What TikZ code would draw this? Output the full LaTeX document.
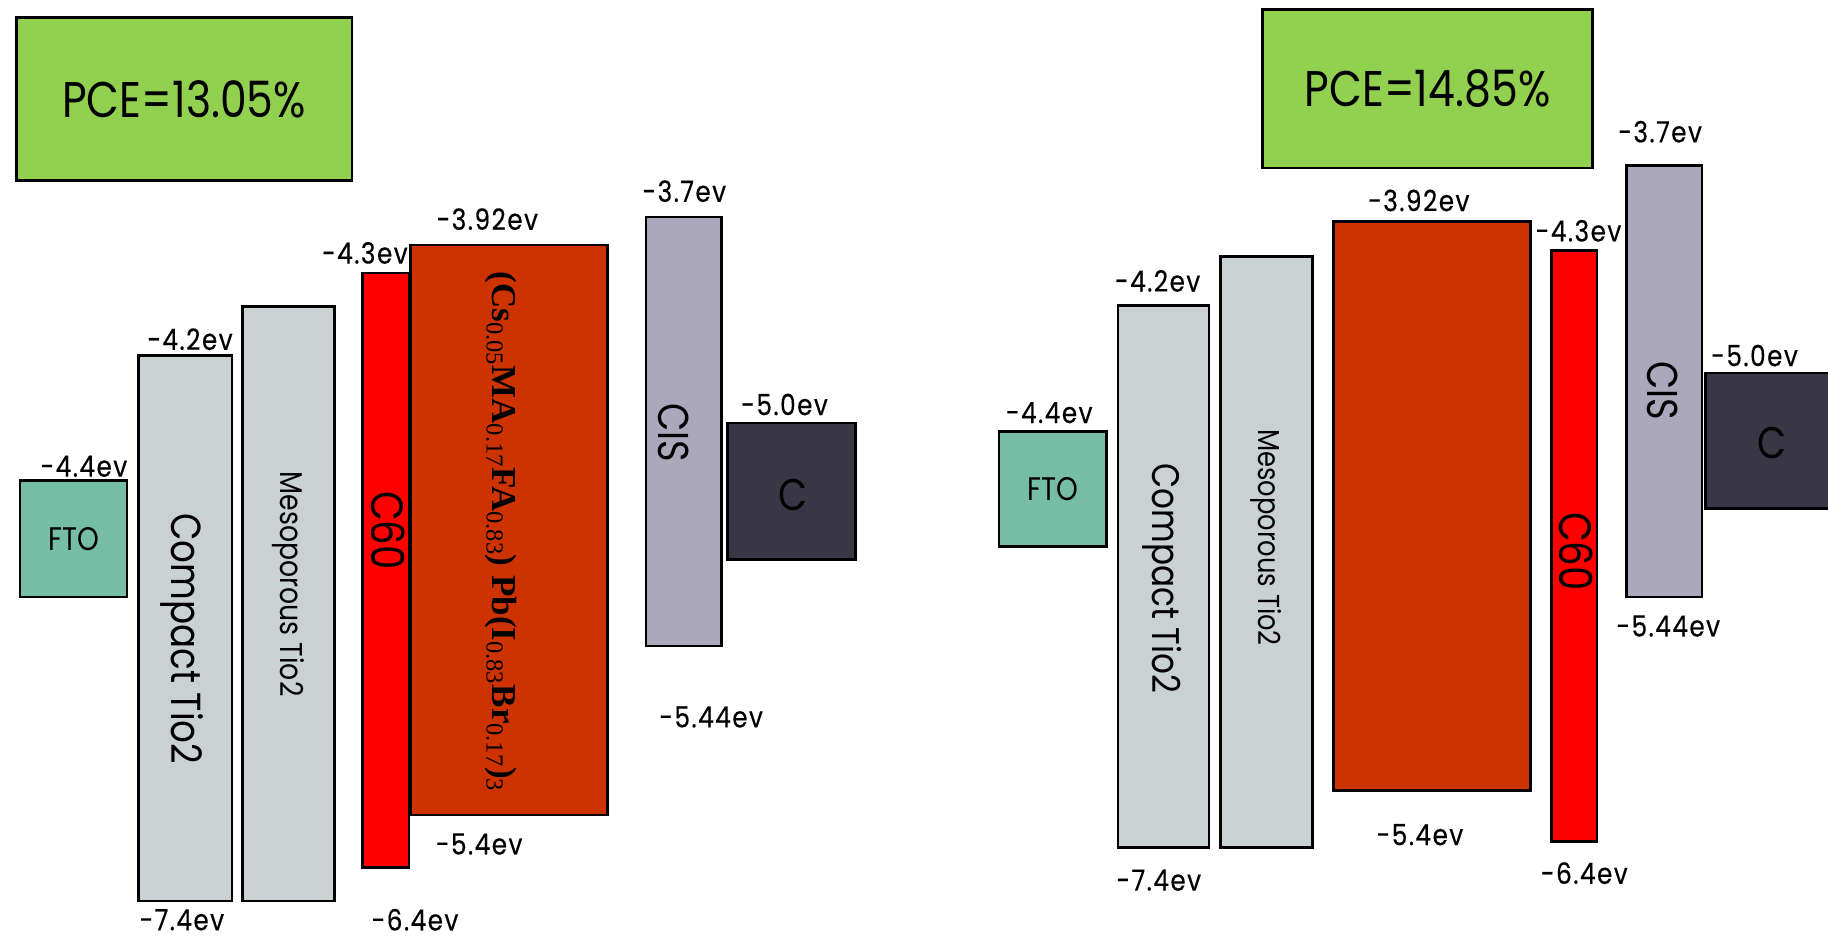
\documentclass[tikz,border=0pt]{standalone}
\usepackage{fontspec}
\setmainfont[FakeStretch=0.85]{Poppins}
\newfontfamily\levelfont[FakeStretch=0.85, LetterSpace=5, FakeBold=0.4]{Poppins}
\newfontfamily\formulafont{Liberation Serif}
\usepackage{tikz}
\usetikzlibrary{fit}
\definecolor{pvGreen}{HTML}{92D050}
\definecolor{pvTeal}{HTML}{76BDA6}
\definecolor{pvGrey}{HTML}{C9D1D3}
\definecolor{pvRed}{HTML}{FF0000}
\definecolor{pvRust}{HTML}{CC3300}
\definecolor{pvLilac}{HTML}{ABA8BC}
\definecolor{pvCarbon}{HTML}{393746}
\tikzset{
  pv diagram/.style={x=1pt, y=-1pt, line join=miter},
  pv band/.style={draw=black, line width=2.2pt, inner sep=0pt, outer sep=0pt},
  pv level/.style={font=\levelfont\fontsize{25}{27}\selectfont, inner sep=0pt},
  pv pce/.style={font=\fontsize{43}{45}\selectfont, inner sep=0pt},
  pv tag/.style={rotate=-90, inner sep=0pt}
}
\begin{document}
\begin{tikzpicture}[pv diagram]
\clip (0,0) rectangle (1568,805);
% left cell
\node[pv band, fill=pvGreen, fit={(14,15) (302,155)}] (pceL) {};
\node[pv pce] (pceLt) at (pceL) {PCE=13.05\%};
\node[pv band, fill=pvTeal, fit={(17,412) (109,512)}] (ftoL) {};
\node[pv band, fill=pvGrey, fit={(119,305) (199,773)}] (ctL) {};
\node[pv band, fill=pvGrey, fit={(208,263) (287,773)}] (mtL) {};
\node[pv band, fill=pvRed, fit={(311,234) (351,744)}] (cbL) {};
\node[pv band, fill=pvRust, fit={(352,210) (521,699)}] (pvkL) {};
\node[pv band, fill=pvLilac, fit={(554,186) (619,554)}] (cisL) {};
\node[pv band, fill=pvCarbon, fit={(624,363) (734,480)}] (carbL) {};
\node[font=\fontsize{28}{30}\selectfont] (ftoLt) at (ftoL) {FTO};
\node[pv tag, font=\fontsize{36}{38}\selectfont] (ctLt) at (156,548) {Compact Tio2};
\node[pv tag, font=\fontsize{27}{29}\selectfont] (mtLt) at (247,501) {Mesoporous Tio2};
\node[pv tag, font=\fontsize{39}{41}\selectfont] (cbLt) at (333,455) {C60};
\node[pv tag, font=\fontsize{30}{32}\selectfont\formulafont\bfseries] (pvkLt) at (430,456)
  {(Cs\textsubscript{\mdseries 0.05}MA\textsubscript{\mdseries 0.17}FA\textsubscript{\mdseries 0.83})
   Pb(I\textsubscript{\mdseries 0.83}Br\textsubscript{\mdseries 0.17})\textsubscript{\mdseries 3}};
\node[pv tag, font=\fontsize{37}{39}\selectfont] (cisLt) at (578,371) {CIS};
\node[font=\fontsize{38}{40}\selectfont] (carbLt) at (680,425) {C};
\node[pv level] (ftoLup) at (72,400) {-4.4ev};
\node[pv level] (ctLup) at (163,291) {-4.2ev};
\node[pv level] (ctLdn) at (156,789) {-7.4ev};
\node[pv level] (cbLup) at (313,217) {-4.3ev};
\node[pv level] (cbLdn) at (356,789) {-6.4ev};
\node[pv level] (pvkLup) at (418,188) {-3.92ev};
\node[pv level] (pvkLdn) at (411,724) {-5.4ev};
\node[pv level] (cisLup) at (587,164) {-3.7ev};
\node[pv level] (cisLdn) at (610,615) {-5.44ev};
\node[pv level] (carbLup) at (673,347) {-5.0ev};
% right cell
\node[pv band, fill=pvGreen, fit={(1083,8) (1366,144)}] (pceR) {};
\node[pv pce] (pceRt) at (pceR) {PCE=14.85\%};
\node[pv band, fill=pvTeal, fit={(857,370) (949,469)}] (ftoR) {};
\node[pv band, fill=pvGrey, fit={(959,262) (1037,727)}] (ctR) {};
\node[pv band, fill=pvGrey, fit={(1047,220) (1126,727)}] (mtR) {};
\node[pv band, fill=pvRust, fit={(1144,190) (1313,678)}] (pvkR) {};
\node[pv band, fill=pvRed, fit={(1331,215) (1370,722)}] (cbR) {};
\node[pv band, fill=pvLilac, fit={(1395,142) (1460,512)}] (cisR) {};
\node[pv band, fill=pvCarbon, fit={(1463,320) (1600,436)}] (carbR) {};
\node[font=\fontsize{28}{30}\selectfont] (ftoRt) at (ftoR) {FTO};
\node[pv tag, font=\fontsize{33}{35}\selectfont] (ctRt) at (997,496) {Compact Tio2};
\node[pv tag, font=\fontsize{26}{28}\selectfont] (mtRt) at (1086,461) {Mesoporous Tio2};
\node[pv tag, font=\fontsize{39}{41}\selectfont] (cbRt) at (1352,473) {C60};
\node[pv tag, font=\fontsize{37}{39}\selectfont] (cisRt) at (1426,335) {CIS};
\node[font=\fontsize{38}{40}\selectfont] (carbRt) at (1520,380) {C};
\node[pv level] (ftoRup) at (900,354) {-4.4ev};
\node[pv level] (ctRup) at (993,241) {-4.2ev};
\node[pv level] (ctRdn) at (994,755) {-7.4ev};
\node[pv level] (pvkRup) at (1217,172) {-3.92ev};
\node[pv level] (pvkRdn) at (1218,716) {-5.4ev};
\node[pv level] (cbRup) at (1354,198) {-4.3ev};
\node[pv level] (cbRdn) at (1359,749) {-6.4ev};
\node[pv level] (cisRup) at (1424,113) {-3.7ev};
\node[pv level] (cisRdn) at (1431,537) {-5.44ev};
\node[pv level] (carbRup) at (1505,305) {-5.0ev};
\end{tikzpicture}
\end{document}
